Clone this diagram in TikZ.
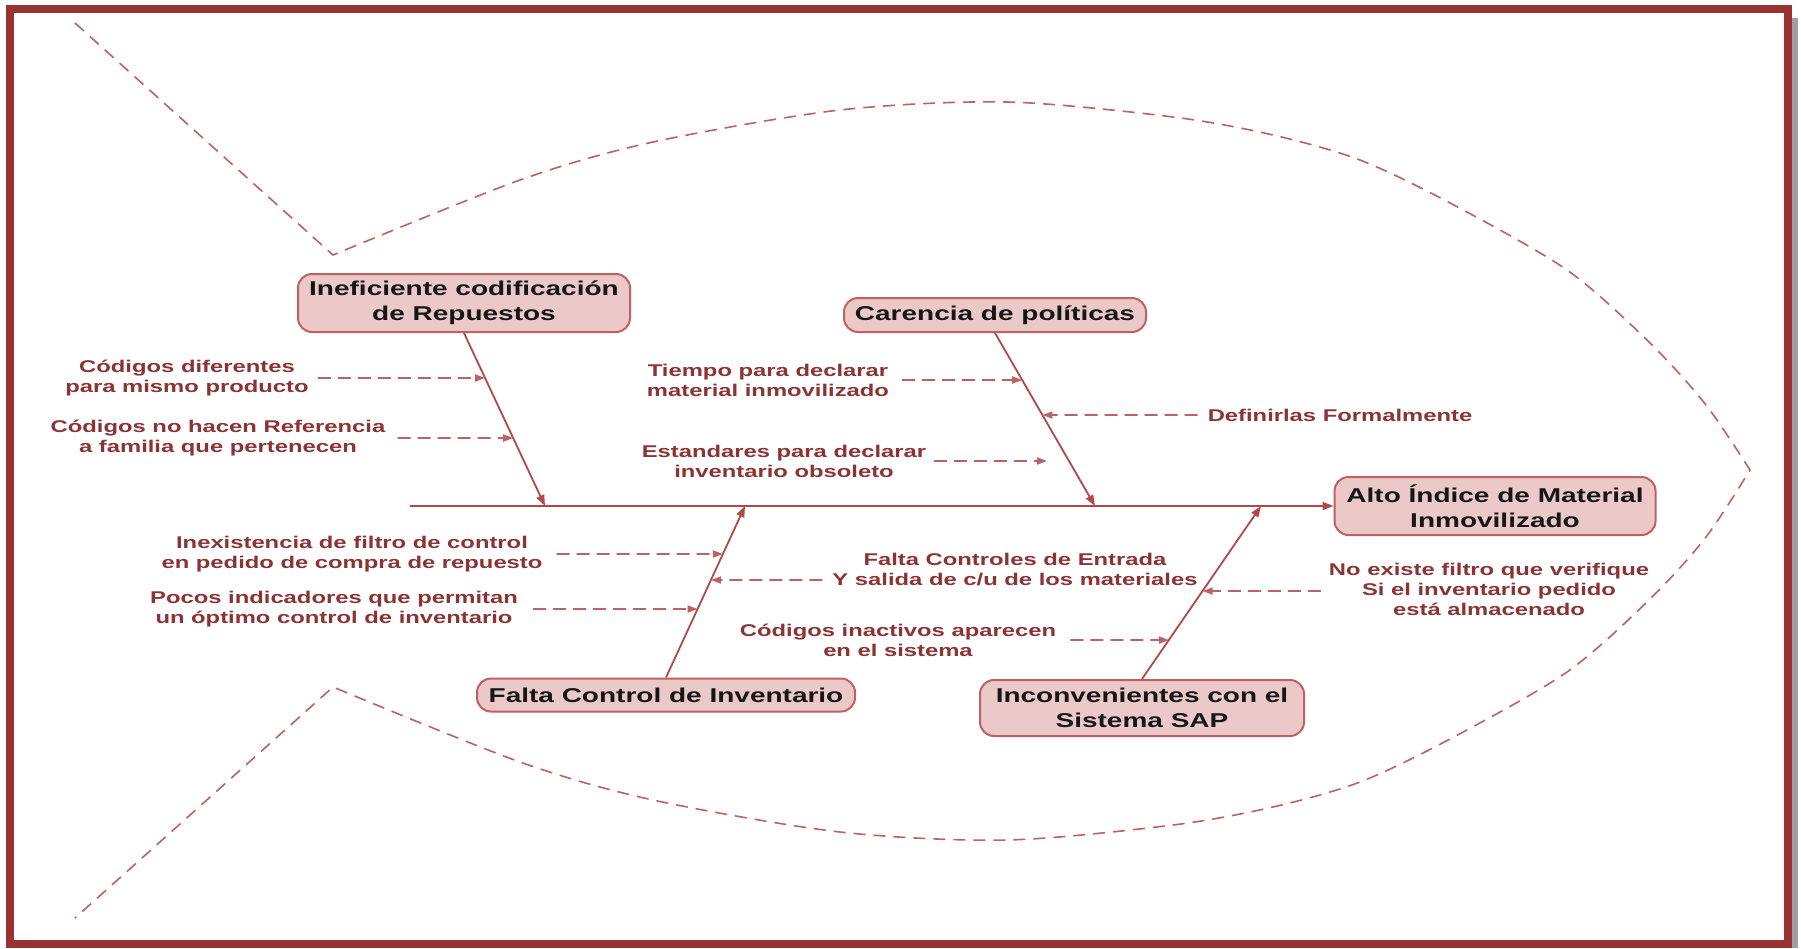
\documentclass[tikz,border=0pt]{standalone}
\usepackage{fontspec}
\newfontfamily\dfont{Liberation Sans}[FakeStretch=1.4]
\usetikzlibrary{arrows.meta,calc}

\definecolor{framered}{RGB}{153,51,51}
\definecolor{bonered}{RGB}{178,72,72}
\definecolor{dashred}{RGB}{188,98,98}
\definecolor{labelred}{RGB}{140,52,52}
\definecolor{boxfill}{RGB}{236,201,201}
\definecolor{boxline}{RGB}{192,96,96}
\definecolor{shadowgray}{RGB}{160,160,160}
\definecolor{boxtext}{RGB}{22,22,22}

\begin{document}
\begin{tikzpicture}[x=1pt,y=-1pt,
  causebox/.style={draw=boxline, fill=boxfill, line width=2pt, rounded corners=14pt,
    align=center, inner sep=0pt, text=boxtext,
    font=\dfont\bfseries\fontsize{20}{25}\selectfont},
  causelabel/.style={align=center, inner sep=0pt, text=labelred,
    font=\dfont\bfseries\fontsize{17}{20}\selectfont},
  bone/.style={draw=bonered, line width=1.8pt, -{Triangle[length=11pt,width=8pt]}},
  subarrow/.style={draw=dashred, line width=1.8pt, dash pattern=on 13pt off 7pt,
    -{Triangle[length=10pt,width=7pt]}},
  fish/.style={draw=dashred, line width=1.6pt, dash pattern=on 12pt off 8pt},
]
\useasboundingbox (0,0) rectangle (1801,948);
\fill[white] (0,0) rectangle (1801,948);

% page frame with its shadow
\draw[shadowgray, line width=6pt] (1795,18) -- (1795,948);
\draw[framered, line width=8pt] (10,9) rectangle (1788,944);

% fish outline: tail, back, nose, belly
\draw[fish] (75,23) -- plot[smooth, tension=0.5] coordinates {
    (333,255) (520,180) (653,142) (840,110) (1007,102) (1173,117) (1273,135)
    (1360,160) (1450,203) (1567,270) (1650,343) (1706,405) (1750,470)}
  -- plot[smooth, tension=0.5] coordinates {
    (1750,470) (1706,537) (1650,599) (1567,672) (1450,739) (1360,782) (1273,807)
    (1173,825) (1007,840) (840,832) (653,800) (520,762) (333,687)}
  -- (75,918);

% main categories and effect
\node[causebox, minimum width=332pt, minimum height=58pt] (c1) at (464,303)
  {Ineficiente codificación\\de Repuestos};
\node[causebox, minimum width=302pt, minimum height=34pt] (c2) at (995,315)
  {Carencia de políticas};
\node[causebox, minimum width=321pt, minimum height=58pt] (eff) at (1495,506)
  {Alto Índice de Material\\Inmovilizado};
\node[causebox, minimum width=378pt, minimum height=33pt] (c3) at (666,695)
  {Falta Control de Inventario};
\node[causebox, minimum width=324pt, minimum height=56pt] (c4) at (1142,708)
  {Inconvenientes con el\\Sistema SAP};

% spine and bones
\coordinate (tail) at (410,506);
\coordinate (b1) at (545,506);
\coordinate (b2) at (1095,506);
\coordinate (b3) at (745,506);
\coordinate (b4) at (1261,506);
\draw[bone] (tail) -- (eff.west);
\draw[bone] (c1.south) -- (b1);
\draw[bone] (c2.south) -- (b2);
\draw[bone] (c3.north) -- (b3);
\draw[bone] (c4.north) -- (b4);

% secondary causes
\node[causelabel] (l1) at (187,378) {Códigos diferentes\\para mismo producto};
\node[causelabel] (l2) at (218,438) {Códigos no hacen Referencia\\a familia que pertenecen};
\node[causelabel] (l3) at (768,380) {Tiempo para declarar\\material inmovilizado};
\node[causelabel] (l4) at (1340,415) {Definirlas Formalmente};
\node[causelabel] (l5) at (784,461) {Estandares para declarar\\inventario obsoleto};
\node[causelabel] (l6) at (352,554) {Inexistencia de filtro de control\\en pedido de compra de repuesto};
\node[causelabel] (l7) at (1015,570) {Falta Controles de Entrada\\Y salida de c/u de los materiales};
\node[causelabel] (l8) at (334,609) {Pocos indicadores que permitan\\un óptimo control de inventario};
\node[causelabel] (l9) at (898,640) {Códigos inactivos aparecen\\en el sistema};
\node[causelabel] (l10) at (1489,589) {No existe filtro que verifique\\Si el inventario pedido\\está almacenado};

% where the secondary arrows meet the bones
\coordinate (t1) at (intersection cs: first line={(l1.east)--([xshift=10pt]l1.east)}, second line={(c1.south)--(b1)});
\coordinate (t2) at (intersection cs: first line={(l2.east)--([xshift=10pt]l2.east)}, second line={(c1.south)--(b1)});
\coordinate (t3) at (intersection cs: first line={(l3.east)--([xshift=10pt]l3.east)}, second line={(c2.south)--(b2)});
\coordinate (t4) at (intersection cs: first line={(l4.west)--([xshift=-10pt]l4.west)}, second line={(c2.south)--(b2)});
\coordinate (t5) at (1047,461);
\coordinate (t6) at (intersection cs: first line={(l6.east)--([xshift=10pt]l6.east)}, second line={(c3.north)--(b3)});
\coordinate (t7) at (intersection cs: first line={([yshift=-10pt]l7.west)--([xshift=-10pt,yshift=-10pt]l7.west)}, second line={(c3.north)--(b3)});
\coordinate (t8) at (intersection cs: first line={(l8.east)--([xshift=10pt]l8.east)}, second line={(c3.north)--(b3)});
\coordinate (t9) at (intersection cs: first line={(l9.east)--([xshift=10pt]l9.east)}, second line={(c4.north)--(b4)});
\coordinate (t10) at (intersection cs: first line={([yshift=-2pt]l10.west)--([xshift=-10pt,yshift=-2pt]l10.west)}, second line={(c4.north)--(b4)});

\draw[subarrow] ([xshift=9pt]l1.east) -- (t1);
\draw[subarrow] ([xshift=12pt]l2.east) -- (t2);
\draw[subarrow] ([xshift=13pt]l3.east) -- (t3);
\draw[subarrow] ([xshift=-10pt]l4.west) -- (t4);
\draw[subarrow] ([xshift=8pt]l5.east) -- (t5);
\draw[subarrow] ([xshift=14pt]l6.east) -- (t6);
\draw[subarrow] ([xshift=-10pt,yshift=-10pt]l7.west) -- (t7);
\draw[subarrow] ([xshift=15pt]l8.east) -- (t8);
\draw[subarrow] ([xshift=14pt]l9.east) -- (t9);
\draw[subarrow] ([xshift=-8pt,yshift=-2pt]l10.west) -- (t10);
\end{tikzpicture}
\end{document}
